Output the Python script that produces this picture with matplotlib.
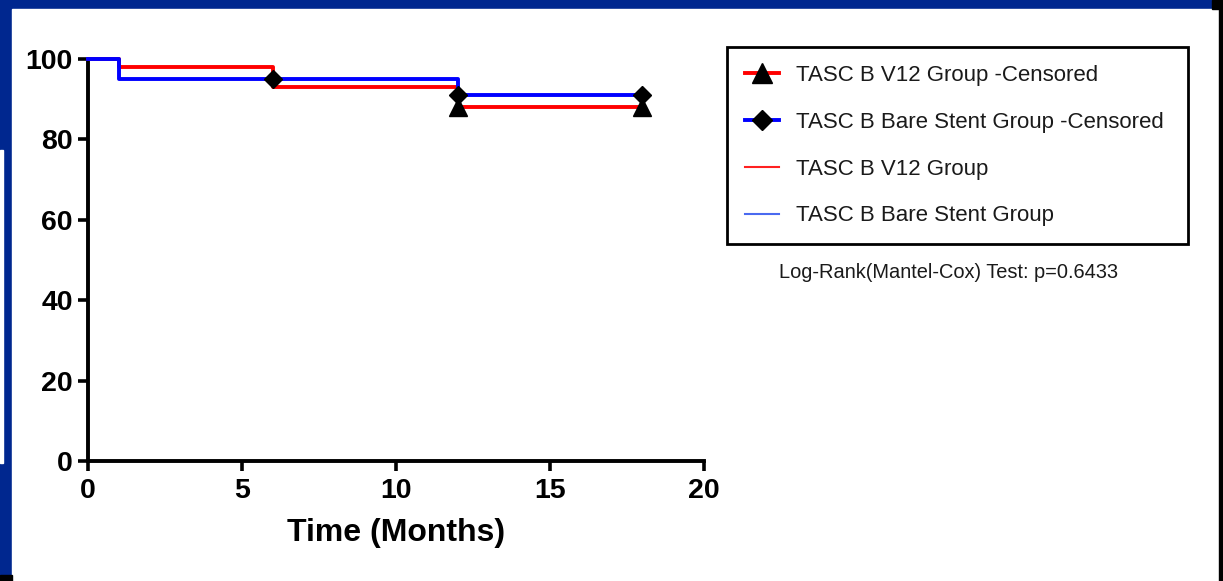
import matplotlib
matplotlib.use('Agg')
import matplotlib.pyplot as plt
from matplotlib.patches import Rectangle
from matplotlib.lines import Line2D

plt.rcParams['font.family'] = ['Liberation Sans', 'DejaVu Sans']

# Kaplan-Meier steps (time in months, percent survival)
v12_time = [0, 1, 6, 12, 18]
v12_surv = [100, 98, 93, 88, 88]
bare_time = [0, 1, 6, 12, 18]
bare_surv = [100, 95, 95, 91, 91]

# censored points
v12_cens_t = [12, 18]
v12_cens_s = [88, 88]
bare_cens_t = [6, 12, 18]
bare_cens_s = [95, 91, 91]

xticks = [0, 5, 10, 15, 20]
yticks = [0, 20, 40, 60, 80, 100]

W, H = 1223, 581
fig = plt.figure(figsize=(W / 100, H / 100), dpi=100)
fig.patch.set_facecolor('#00278F')

def px_rect(x0, y0, x1, y1, color):
    # rectangle given in pixel coords, y measured from top
    fig.patches.append(Rectangle((x0 / W, 1 - y1 / H), (x1 - x0) / W, (y1 - y0) / H,
                                 transform=fig.transFigure, color=color, zorder=-10))

px_rect(12, 9, 1219, 581, 'white')
px_rect(0, 150, 3, 463, 'white')
px_rect(1212, 0, 1223, 9, 'black')
px_rect(1219, 9, 1223, 581, 'black')
px_rect(0, 575, 12, 581, 'black')

ax = fig.add_axes([88 / W, 1 - 461 / H, (704 - 88) / W, (461 - 59) / H], zorder=2)
ax.set_facecolor('none')

ax.step(v12_time, v12_surv, where='post', color='#FF0000', lw=2.8, clip_on=False, zorder=3)
ax.step(bare_time, bare_surv, where='post', color='#0000FF', lw=2.8, clip_on=False, zorder=4)
ax.plot(v12_cens_t, v12_cens_s, ls='none', marker='^', ms=13, color='black', clip_on=False, zorder=5)
ax.plot(bare_cens_t, bare_cens_s, ls='none', marker='D', ms=9.5, color='black', clip_on=False, zorder=6)

ax.set_xlim(0, 20)
ax.set_ylim(0, 100)
ax.set_xticks(xticks)
ax.set_yticks(yticks)
for s in ['top', 'right']:
    ax.spines[s].set_visible(False)
for s in ['left', 'bottom']:
    ax.spines[s].set_linewidth(2.8)
ax.tick_params(width=2.6, length=7, labelsize=20.5)
ax.tick_params(axis='x', pad=5)
ax.tick_params(axis='y', pad=4)
for lab in ax.get_xticklabels() + ax.get_yticklabels():
    lab.set_fontweight('bold')
ax.set_xlabel('Time (Months)', fontsize=23, fontweight='bold', labelpad=10)

handles = [
    Line2D([], [], color='#FF0000', lw=2.8, marker='^', ms=14, mfc='black', mec='black'),
    Line2D([], [], color='#0000FF', lw=2.8, marker='D', ms=10, mfc='black', mec='black'),
    Line2D([], [], color='#FF2020', lw=1.5),
    Line2D([], [], color='#4A6AF0', lw=1.5),
]
labels = ['TASC B V12 Group -Censored', 'TASC B Bare Stent Group -Censored',
          'TASC B V12 Group', 'TASC B Bare Stent Group']
leg = fig.legend(handles, labels, loc='upper left',
                 bbox_to_anchor=(727 / W, 1 - 53 / H, (1188 - 727) / W, 0.01),
                 mode='expand', fontsize=16, frameon=True, fancybox=False,
                 edgecolor='black', framealpha=1, handlelength=1.55, handletextpad=0.75,
                 labelspacing=1.16, borderpad=0.8, borderaxespad=0)
leg.get_frame().set_linewidth(2)
for t in leg.get_texts():
    t.set_color('#1a1a1a')

fig.text(949 / W, 1 - 272 / H, 'Log-Rank(Mantel-Cox) Test: p=0.6433', fontsize=14.4,
         ha='center', va='center', color='#1a1a1a')

fig.savefig('out.png', dpi=100, facecolor=fig.get_facecolor())
